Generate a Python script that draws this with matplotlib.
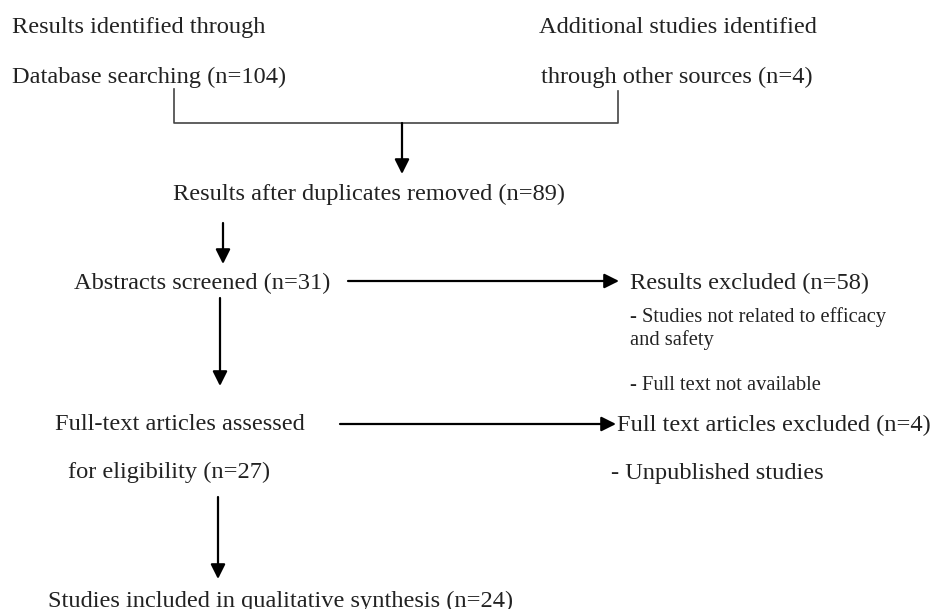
import matplotlib
matplotlib.use("Agg")
import matplotlib.pyplot as plt

# flow labels (PRISMA style)
source_labels = ["Results identified through", "Database searching (n=104)",
                 "Additional studies identified", "through other sources (n=4)"]
step_labels = ["Results after duplicates removed (n=89)",
               "Abstracts screened (n=31)",
               "Full-text articles assessed",
               "for eligibility (n=27)",
               "Studies included in qualitative synthesis (n=24)"]
excluded_labels = ["Results excluded (n=58)", "Full text articles excluded (n=4)"]
reason_labels = ["- Studies not related to efficacy", "and safety",
                 "- Full text not available",
                 "- Unpublished studies"]

plt.rcParams['font.family'] = ['Liberation Serif', 'DejaVu Serif']

fig = plt.figure(figsize=(9.36, 6.09), dpi=100)
ax = fig.add_axes([0, 0, 1, 1])
ax.set_xlim(0, 936)
ax.set_ylim(609, 0)
ax.axis('off')

big = 17.6
small = 14.8
tc = '#222222'


def txt(x, y, s, size=big):
    ax.text(x, y, s, fontsize=size, color=tc, ha='left', va='baseline')


def arrow(x0, y0, x1, y1):
    ax.annotate('', xy=(x1, y1), xytext=(x0, y0),
                arrowprops=dict(arrowstyle='-|>', color='black', lw=1.6,
                                mutation_scale=22, shrinkA=0, shrinkB=0))


# sources
txt(12, 33, source_labels[0])
txt(12, 83, source_labels[1])
txt(539, 33, source_labels[2])
txt(541, 83, source_labels[3])

# bracket joining the sources
ax.plot([174, 174, 618, 618], [89, 123, 123, 91], color='#444444', lw=1.2)
arrow(402, 123, 402, 174)

txt(173, 200, step_labels[0])
arrow(223, 223, 223, 264)

txt(74, 289, step_labels[1])
arrow(348, 281, 619, 281)
txt(630, 289, excluded_labels[0])
txt(630, 322, reason_labels[0], size=small)
txt(630, 345, reason_labels[1], size=small)
txt(630, 390, reason_labels[2], size=small)
arrow(220, 298, 220, 386)

txt(55, 430, step_labels[2])
arrow(340, 424, 616, 424)
txt(617, 431, excluded_labels[1])
txt(68, 478, step_labels[3])
txt(611, 479, reason_labels[3])
arrow(218, 497, 218, 579)

txt(48, 607, step_labels[4])

fig.savefig("out.png", dpi=100)
